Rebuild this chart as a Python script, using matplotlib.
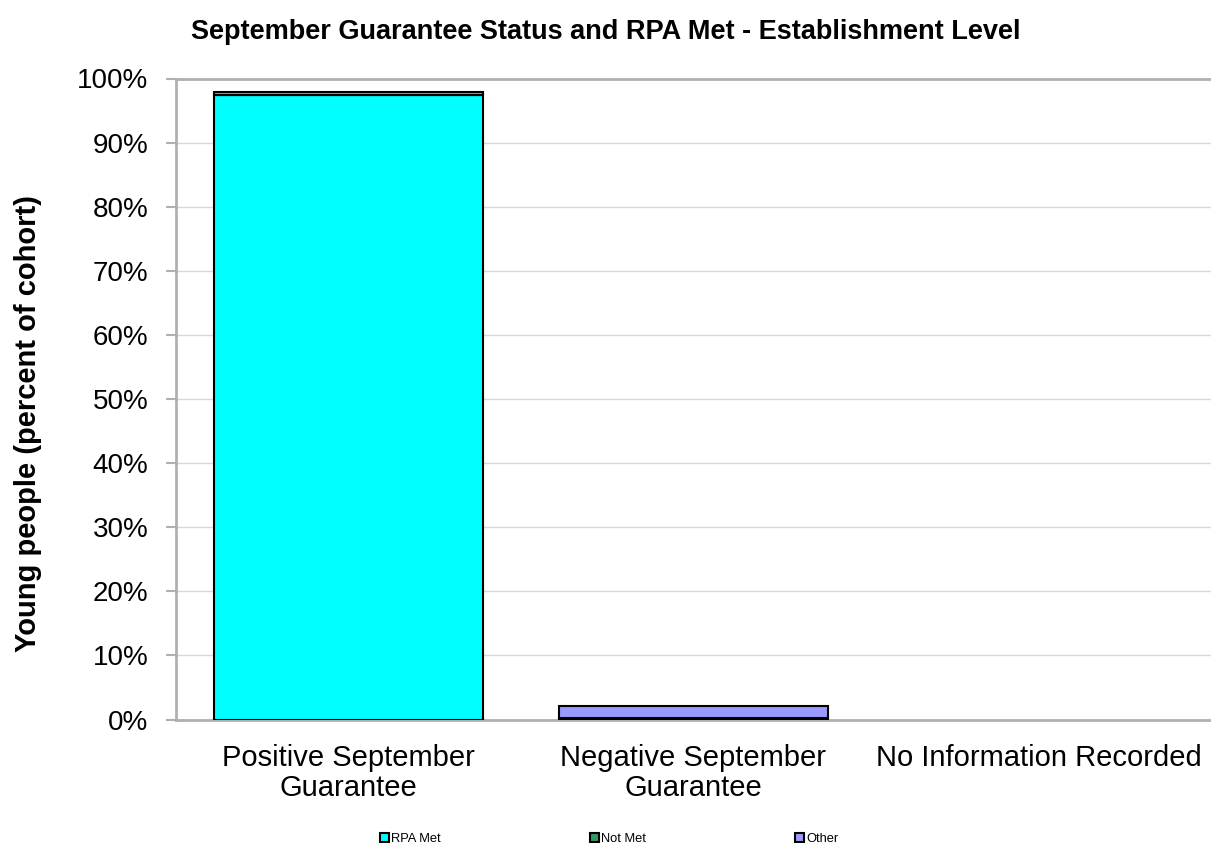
import numpy as np
import matplotlib.pyplot as plt
from matplotlib.ticker import PercentFormatter

plt.rcParams['font.family'] = ['Liberation Sans', 'DejaVu Sans']

categories = ['Positive September\nGuarantee', 'Negative September\nGuarantee', 'No Information Recorded']
rpa_met = np.array([97.4, 0.0, 0.0])
not_met = np.array([0.1, 0.25, 0.0])
other = np.array([0.4, 1.9, 0.0])
series_names = ['RPA Met', 'Not Met', 'Other']
colours = ['#00FFFF', '#339966', '#9999FF']

fig = plt.figure(figsize=(12.11, 8.43), dpi=100)
ax = fig.add_axes([176/1211, 1 - 719.5/843, 1 - 176/1211, (719.5 - 78.5)/843])

x = np.arange(len(categories))
bottom = np.zeros(len(categories))
for vals, name, col in zip([rpa_met, not_met, other], series_names, colours):
    lw = np.where(vals > 0, 1.5, 0.0)
    ax.bar(x, vals, bottom=bottom, width=0.78, color=col, edgecolor='black',
           linewidth=lw, label=name, zorder=3)
    bottom += vals

ax.set_xlim(-0.5, 2.5)
ax.set_ylim(0, 100)
ax.set_yticks(np.arange(0, 101, 10))
ax.yaxis.set_major_formatter(PercentFormatter(decimals=0))
ax.set_xticks(x)
ax.set_xticklabels(categories, fontsize=21, linespacing=1.08)
ax.tick_params(axis='x', length=0, pad=18)
ax.tick_params(axis='y', labelsize=20, length=7, color='#b0b0b0', width=1.5, pad=13)
ax.grid(axis='y', color='#d9d9d9', linewidth=1, zorder=0)
for s in ['left', 'bottom', 'top']:
    ax.spines[s].set_color('#b0b0b0')
    ax.spines[s].set_linewidth(2)
ax.spines['right'].set_visible(False)

ax.set_ylabel('Young people (percent of cohort)', fontsize=21, fontweight='bold')
ax.yaxis.set_label_coords(-(176 - 42) / 1035, (719.5 - 423) / 641)
fig.suptitle('September Guarantee Status and RPA Met - Establishment Level',
             fontsize=19.5, fontweight='bold', x=0.5, y=0.978)

leg = fig.legend(loc='lower center', bbox_to_anchor=(0.503, -0.016), ncol=3, frameon=False,
                 fontsize=9.3, handlelength=0.7, handleheight=0.7, handletextpad=0.2,
                 columnspacing=11.5)
for h in leg.legend_handles:
    h.set_linewidth(1.5)

fig.savefig('out.png', dpi=100)
